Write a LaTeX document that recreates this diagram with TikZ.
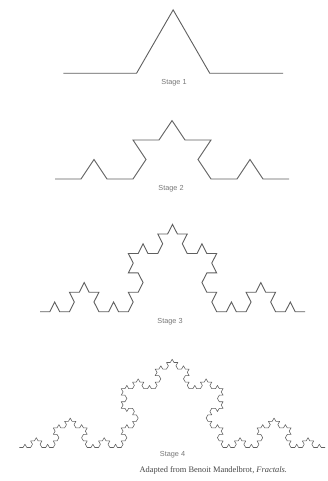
\documentclass[tikz,border=0pt]{standalone}
\usepackage{fontspec}
\setmainfont{Liberation Serif}
\setsansfont{Liberation Sans}
\definecolor{kochgray}{RGB}{95,95,95}
\definecolor{labelgray}{RGB}{120,120,120}
\definecolor{capgray}{RGB}{70,70,70}
\tikzset{
  kochline/.style={draw=kochgray, line width=0.9pt, line join=miter},
  kochfine/.style={draw=kochgray, line width=0.55pt, line join=round},
  stagelabel/.style={font=\sffamily\fontsize{7.3}{8}\selectfont, text=labelgray, inner sep=0pt},
  caption/.style={font=\fontsize{8.4}{10}\selectfont, text=capgray, inner sep=0pt}
}
% #1 order, #2 x0, #3 y0 (baseline), #4 length, #5 vertical scale, #6 macro
\newcommand\kochpts[6]{%
  \pgfmathsetmacro\kseg{#4/(3^#1)}%
  \xdef\kx{#2}\xdef\ky{#3}%
  \xdef#6{(#2,#3)}%
  \pgfmathtruncatemacro\kN{4^#1-1}%
  \foreach \ki in {0,...,\kN}{%
    \pgfmathtruncatemacro\kda{mod(\ki,4)}%
    \pgfmathtruncatemacro\kdb{mod(floor(\ki/4),4)}%
    \pgfmathtruncatemacro\kdc{mod(floor(\ki/16),4)}%
    \pgfmathtruncatemacro\kdd{mod(floor(\ki/64),4)}%
    \pgfmathsetmacro\kang{60*((\kda==1)-(\kda==2)+(\kdb==1)-(\kdb==2)+(\kdc==1)-(\kdc==2)+(\kdd==1)-(\kdd==2))}%
    \pgfmathsetmacro\knx{\kx+\kseg*cos(\kang)}%
    \pgfmathsetmacro\kny{\ky-#5*\kseg*sin(\kang)}%
    \xdef\kx{\knx}\xdef\ky{\kny}%
    \xdef#6{#6 (\knx,\kny)}%
  }%
}
\begin{document}
\begin{tikzpicture}[x=1pt,y=-1pt]
\useasboundingbox[fill=white] (0,0) rectangle (328,481);
\kochpts{1}{63.3}{73.3}{219.7}{1}{\ptsA}
\kochpts{2}{55}{179}{234}{0.865}{\ptsB}
\kochpts{3}{40}{311.7}{265}{1.142}{\ptsC}
\kochpts{4}{19.3}{447.5}{305.7}{1.0}{\ptsD}
\edef\kdraw{\noexpand\draw[kochline] plot coordinates {\ptsA};}\kdraw
\edef\kdraw{\noexpand\draw[kochline] plot coordinates {\ptsB};}\kdraw
\edef\kdraw{\noexpand\draw[kochline] plot coordinates {\ptsC};}\kdraw
\edef\kdraw{\noexpand\draw[kochfine] plot coordinates {\ptsD};}\kdraw
\node[stagelabel] (s1) at (174,83) {Stage 1};
\node[stagelabel] (s2) at (171,188.5) {Stage 2};
\node[stagelabel] (s3) at (170,321.5) {Stage 3};
\node[stagelabel] (s4) at (172.5,455) {Stage 4};
\node[caption] (cap) at (213.3,470.5) {Adapted from Benoit Mandelbrot, \textit{Fractals.}};
\end{tikzpicture}
\end{document}
